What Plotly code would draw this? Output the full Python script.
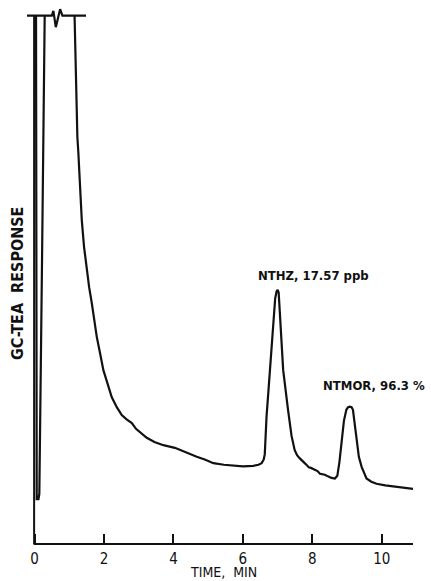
import plotly.graph_objects as go

# GC-TEA chromatogram: retention time (min) vs detector response (recorder units, 100 = full scale)
time_min = [
    0.04, 0.04, 0.06, 0.11, 0.135, 0.21, 0.29, None,
    1.15, 1.19, 1.214, 1.231, 1.26, 1.309, 1.358, 1.424, 1.50, 1.57, 1.646,
    1.79, 1.885, 1.98, 2.094, 2.22, 2.366, 2.51,
    2.65, 2.80, 2.92, 3.04, 3.23, 3.45, 3.71, 4.04, 4.19, 4.45, 4.67, 4.90,
    5.15, 5.45, 5.72, 6.00, 6.30, 6.45, 6.54, 6.60, 6.63, 6.68, 6.78, 6.87,
    6.93, 6.97, 7.00, 7.03, 7.07, 7.16, 7.30, 7.40, 7.49, 7.56, 7.64, 7.72,
    7.78, 7.83, 7.90, 7.96, 8.07, 8.15, 8.22, 8.36, 8.45, 8.55, 8.65, 8.72,
    8.78, 8.84, 8.91, 8.98, 9.03, 9.08, 9.13, 9.17, 9.22, 9.27, 9.34, 9.42,
    9.49, 9.56, 9.70, 9.85, 10.1, 10.42, 10.7, 10.95,
]
response = [
    100, 9.5, 8.5, 8.5, 9.5, 52, 100, None,
    100, 85, 80.3, 77.0, 74.0, 67.6, 61.3, 56.2, 51.9, 48.6, 45.6,
    39.2, 36.1, 32.9, 30.5, 27.8, 25.9, 24.4,
    23.6, 22.9, 21.8, 21.2, 20.1, 19.3, 18.7, 18.2, 17.8, 17.0, 16.5, 16.0,
    15.3, 15.0, 14.8, 14.7, 14.8, 15.0, 15.3, 16.0, 17.0, 24.0, 33.0, 42.4,
    46.5, 47.8, 48.1, 47.6, 42.4, 32.9, 25.4, 20.5, 17.8, 16.8, 16.2, 15.6,
    15.3, 15.0, 14.5, 14.4, 14.0, 13.8, 13.3, 13.1, 12.8, 12.5, 12.4, 12.9,
    15.5, 19.7, 23.3, 25.4, 25.9, 26.0, 25.9, 25.4, 23.0, 19.7, 16.5, 14.6,
    13.3, 12.4, 11.8, 11.4, 11.1, 10.8, 10.6, 10.4,
]

# full-scale (off-scale) pen line with a scale-break mark
cap_t = [-0.224, 0.495, 0.54, 0.61, 0.734, 0.80, 1.48]
cap_y = [100, 100, 100.9, 97.8, 101.2, 100, 100]

tick_vals = [0, 2, 4, 6, 8, 10]
tick_text = ["0", "2", "4", "6", "8", "10"]

peak_labels = ["NTHZ, 17.57 ppb", "NTMOR, 96.3 %"]
peak_label_t = [6.39, 8.24]
peak_label_y = [50.8, 30.0]

ink = "#111111"
face = "DejaVu Sans Condensed"

fig = go.Figure()
fig.add_trace(go.Scatter(x=time_min, y=response, mode="lines",
                         line=dict(color=ink, width=2.2), connectgaps=False,
                         hoverinfo="skip"))
fig.add_trace(go.Scatter(x=cap_t, y=cap_y, mode="lines",
                         line=dict(color=ink, width=2.2), hoverinfo="skip"))

for txt, tx, ty in zip(peak_labels, peak_label_t, peak_label_y):
    fig.add_annotation(x=tx, y=ty, text=f"<b>{txt}</b>", showarrow=False,
                       xanchor="left", yanchor="middle",
                       font=dict(family=face, size=13, color=ink))

# y-axis title drawn vertically beside the frame
fig.add_annotation(xref="paper", yref="paper", x=-0.026, y=0.484,
                   text="<b>GC-TEA  RESPONSE</b>", textangle=-90, showarrow=False,
                   xanchor="center", yanchor="middle",
                   font=dict(family=face, size=16, color=ink))

# x-axis title below the tick labels
fig.add_annotation(xref="paper", yref="paper", x=0.508, y=-0.0515,
                   text="TIME,  MIN", showarrow=False,
                   xanchor="center", yanchor="middle",
                   font=dict(family=face, size=14, color=ink))

# frame lines: vertical axis at t=0 and the time axis
fig.add_shape(type="line", xref="x", yref="y", x0=-0.015, x1=-0.015, y0=0, y1=100,
              line=dict(color=ink, width=2))
fig.add_shape(type="line", xref="x", yref="paper", x0=-0.03, x1=10.9, y0=0, y1=0,
              line=dict(color=ink, width=2))

fig.update_layout(
    width=431, height=581,
    margin=dict(l=27, r=18, t=5, b=37),
    paper_bgcolor="white", plot_bgcolor="white",
    showlegend=False,
    xaxis=dict(range=[-0.22, 10.9], showgrid=False, zeroline=False, showline=False,
               automargin=False,
               tickmode="array", tickvals=tick_vals, ticktext=tick_text,
               ticks="inside", ticklen=10, tickwidth=2, tickcolor=ink,
               ticklabelstandoff=4,
               tickfont=dict(family=face, size=15, color=ink)),
    yaxis=dict(range=[0, 102], showgrid=False, zeroline=False, showline=False,
               automargin=False, showticklabels=False, ticks=""),
)

fig.write_html("out.html")
